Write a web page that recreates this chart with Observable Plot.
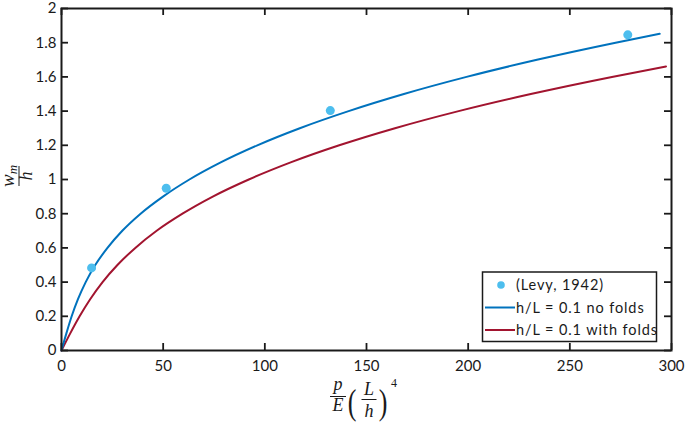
<!DOCTYPE html>
<html>
<head>
<meta charset="utf-8">
<script src="https://cdn.jsdelivr.net/npm/d3@7"></script>
<script src="https://cdn.jsdelivr.net/npm/@observablehq/plot@0.6"></script>
<style>
  html, body { margin: 0; padding: 0; background: #fff; }
  #chart { width: 685px; height: 423px; position: relative; }
</style>
</head>
<body>
<div id="chart"></div>
<script>
// ---- data ----
const xTicks = [0, 50, 100, 150, 200, 250, 300];
const yTicks = [0, 0.2, 0.4, 0.6, 0.8, 1, 1.2, 1.4, 1.6, 1.8, 2];

const levyX = [14.8, 51.5, 132.2, 278.5];
const levyY = [0.483, 0.949, 1.403, 1.846];

const noFoldsX = [0, 2.4, 5, 8.1, 11.9, 16.6, 22.6, 29.9, 38.9, 49.9, 62.9, 78.3, 96.3, 117.2, 141.2, 168.4, 199.2, 233.8, 272.5, 294.2];
const noFoldsY = [0, 0.1, 0.2, 0.3, 0.4, 0.5, 0.6, 0.7, 0.8, 0.9, 1.0, 1.1, 1.2, 1.3, 1.4, 1.5, 1.6, 1.7, 1.8, 1.852];

const foldsX = [0, 4.3, 8.9, 14.1, 20.2, 27.5, 36.3, 46.8, 59.5, 74.4, 92.1, 112.7, 136.6, 164.0, 195.3, 230.8, 270.7, 297.3];
const foldsY = [0, 0.1, 0.2, 0.3, 0.4, 0.5, 0.6, 0.7, 0.8, 0.9, 1.0, 1.1, 1.2, 1.3, 1.4, 1.5, 1.6, 1.661];

const seriesNames = ["(Levy, 1942)", "h/L = 0.1 no folds", "h/L = 0.1 with folds"];
const colors = ["#4DBEEE", "#0072BD", "#A2142F"];

// ---- build tables ----
const levy = levyX.map((x, i) => ({x, y: levyY[i]}));
const noFolds = noFoldsX.map((x, i) => ({x, y: noFoldsY[i]}));
const folds = foldsX.map((x, i) => ({x, y: foldsY[i]}));

const W = 685, H = 423;
const mT = 8, mB = 73, mL = 61, mR = 14;
const frameW = W - mL - mR, frameH = H - mT - mB;
const tickLen = 7;
const ink = "#1a1a1a";
const sans = "Lato, 'Noto Sans', sans-serif";

const plot = Plot.plot({
  width: W,
  height: H,
  marginTop: mT,
  marginBottom: mB,
  marginLeft: mL,
  marginRight: mR,
  style: {fontFamily: sans, fontSize: "15px", color: ink, background: "#fff"},
  x: {domain: [0, 300]},
  y: {domain: [0, 2]},
  marks: [
    Plot.axisX({ticks: xTicks, tickSize: 0, tickPadding: 10, tickFormat: d => String(d), label: null, fill: ink}),
    Plot.axisY({ticks: yTicks, tickSize: 0, tickPadding: 5, tickFormat: d => String(d), label: null, fill: ink}),
    // inward ticks on all four sides
    Plot.ruleX(xTicks, {x: d => d, insetTop: frameH - tickLen, stroke: ink, strokeWidth: 1.8}),
    Plot.ruleX(xTicks, {x: d => d, insetBottom: frameH - tickLen, stroke: ink, strokeWidth: 1.8}),
    Plot.ruleY(yTicks, {y: d => d, insetRight: frameW - tickLen, stroke: ink, strokeWidth: 1.8}),
    Plot.ruleY(yTicks, {y: d => d, insetLeft: frameW - tickLen, stroke: ink, strokeWidth: 1.8}),
    Plot.line(folds, {x: "x", y: "y", stroke: colors[2], strokeWidth: 2, curve: "monotone-x"}),
    Plot.line(noFolds, {x: "x", y: "y", stroke: colors[1], strokeWidth: 2, curve: "monotone-x"}),
    Plot.dot(levy, {x: "x", y: "y", r: 4.5, fill: colors[0], stroke: "none"}),
    Plot.frame({stroke: ink, strokeWidth: 2})
  ]
});

document.getElementById("chart").appendChild(plot);

// ---- axis labels (math) and legend ----
const svg = d3.select(plot);
const serif = "'Liberation Serif', 'DejaVu Serif', serif";

// y label: w_m / h, rotated
const yl = svg.append("g").attr("transform", "translate(19,176) rotate(-90)")
  .attr("font-family", serif).attr("font-style", "italic").attr("fill", ink);
const num = yl.append("text").attr("x", 0).attr("y", -5).attr("text-anchor", "middle").attr("font-size", 19);
num.append("tspan").text("w");
num.append("tspan").attr("font-size", 13).attr("dy", 3).text("m");
yl.append("line").attr("x1", -10).attr("x2", 10).attr("y1", 0).attr("y2", 0).attr("stroke", ink).attr("stroke-width", 1);
yl.append("text").attr("x", 0).attr("y", 13).attr("text-anchor", "middle").attr("font-size", 18).text("h");

// x label: p/E (L/h)^4
const xl = svg.append("g").attr("font-family", serif).attr("fill", ink);
const cx = 366;
// p / E
xl.append("text").attr("x", cx - 28).attr("y", 390).attr("text-anchor", "middle").attr("font-size", 18).attr("font-style", "italic").text("p");
xl.append("line").attr("x1", cx - 36).attr("x2", cx - 20).attr("y1", 396.5).attr("y2", 396.5).attr("stroke", ink).attr("stroke-width", 1);
xl.append("text").attr("x", cx - 28).attr("y", 411).attr("text-anchor", "middle").attr("font-size", 18).attr("font-style", "italic").text("E");
// parentheses (thin, tall)
xl.append("text").attr("text-anchor", "middle").attr("font-size", 26)
  .attr("transform", `translate(${cx - 14},${414}) scale(1,1.4)`).text("(");
xl.append("text").attr("text-anchor", "middle").attr("font-size", 26)
  .attr("transform", `translate(${cx + 17},${414}) scale(1,1.4)`).text(")");
// L / h
xl.append("text").attr("x", cx + 3).attr("y", 395).attr("text-anchor", "middle").attr("font-size", 18).attr("font-style", "italic").text("L");
xl.append("line").attr("x1", cx - 4.5).attr("x2", cx + 10.5).attr("y1", 399.5).attr("y2", 399.5).attr("stroke", ink).attr("stroke-width", 1);
xl.append("text").attr("x", cx + 3).attr("y", 417).attr("text-anchor", "middle").attr("font-size", 18).attr("font-style", "italic").text("h");
// exponent
xl.append("text").attr("x", cx + 28).attr("y", 387).attr("text-anchor", "middle").attr("font-size", 12).text("4");

// legend
const lg = svg.append("g").attr("font-family", sans).attr("font-size", 14.5).attr("fill", ink);
lg.append("rect").attr("x", 482.5).attr("y", 272).attr("width", 174).attr("height", 69.5)
  .attr("fill", "#fff").attr("stroke", ink).attr("stroke-width", 1.5);
const rowsY = [285, 307.5, 330];
seriesNames.forEach((name, i) => {
  const y = rowsY[i];
  if (i === 0) {
    lg.append("circle").attr("cx", 501).attr("cy", y).attr("r", 3.8).attr("fill", colors[0]);
  } else {
    lg.append("line").attr("x1", 485).attr("x2", 515).attr("y1", y).attr("y2", y)
      .attr("stroke", colors[i]).attr("stroke-width", 2);
  }
  lg.append("text").attr("x", 516).attr("y", y).attr("dy", "0.35em")
    .attr("text-anchor", "start").attr("letter-spacing", "0.9px").text(name);
});
</script>
</body>
</html>
